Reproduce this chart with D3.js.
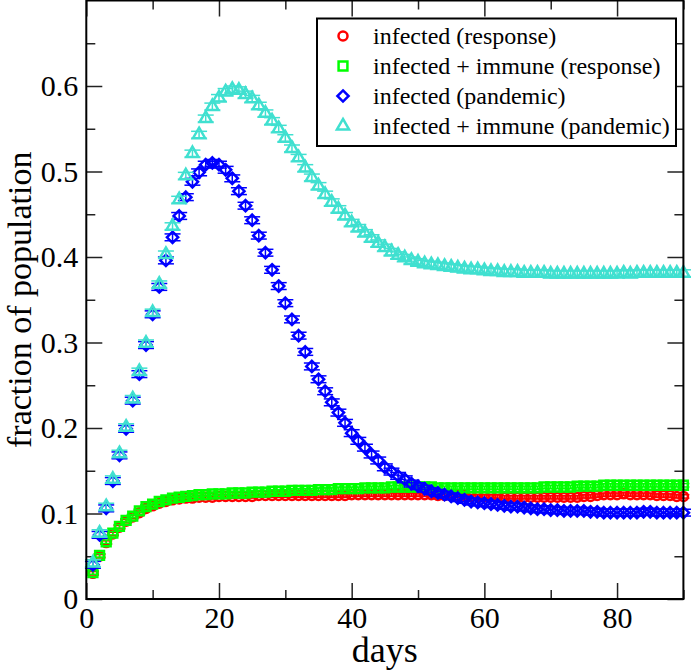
<!DOCTYPE html>
<html>
<head>
<meta charset="utf-8">
<script src="https://cdn.jsdelivr.net/npm/d3@7"></script>
<style>
  body { margin: 0; background: #fff; }
  text { font-family: "Liberation Serif", "Times New Roman", serif; }
</style>
</head>
<body>
<svg id="chart"></svg>
<script>
// days 1..90
const days = d3.range(1, 91);

const infectedResponse = [
  0.030, 0.050, 0.066, 0.076, 0.084, 0.091, 0.096, 0.101, 0.106, 0.109,
  0.112, 0.114, 0.116, 0.117, 0.118, 0.118, 0.119, 0.119, 0.119, 0.120,
  0.120, 0.120, 0.120, 0.120, 0.120, 0.121, 0.121, 0.121, 0.121, 0.121,
  0.121, 0.121, 0.121, 0.121, 0.121, 0.121, 0.121, 0.121, 0.121, 0.122,
  0.122, 0.122, 0.122, 0.122, 0.122, 0.122, 0.122, 0.122, 0.122, 0.122,
  0.122, 0.122, 0.121, 0.121, 0.121, 0.121, 0.121, 0.120, 0.120, 0.120,
  0.120, 0.120, 0.119, 0.119, 0.119, 0.119, 0.119, 0.119, 0.119, 0.119,
  0.119, 0.119, 0.119, 0.119, 0.120, 0.120, 0.121, 0.122, 0.122, 0.122,
  0.123, 0.122, 0.122, 0.122, 0.122, 0.121, 0.121, 0.121, 0.120, 0.120
];

const immuneResponse = [
  0.031, 0.051, 0.067, 0.077, 0.085, 0.092, 0.097, 0.103, 0.108, 0.111,
  0.114, 0.116, 0.118, 0.119, 0.120, 0.121, 0.122, 0.122, 0.123, 0.123,
  0.123, 0.124, 0.124, 0.124, 0.125, 0.125, 0.125, 0.126, 0.126, 0.126,
  0.127, 0.127, 0.127, 0.127, 0.128, 0.128, 0.128, 0.129, 0.129, 0.129,
  0.129, 0.130, 0.130, 0.130, 0.130, 0.131, 0.131, 0.131, 0.131, 0.131,
  0.131, 0.131, 0.130, 0.130, 0.130, 0.130, 0.130, 0.130, 0.130, 0.130,
  0.130, 0.130, 0.130, 0.130, 0.130, 0.130, 0.130, 0.130, 0.131, 0.131,
  0.131, 0.131, 0.131, 0.132, 0.132, 0.132, 0.132, 0.133, 0.133, 0.133,
  0.133, 0.133, 0.133, 0.133, 0.133, 0.133, 0.133, 0.133, 0.133, 0.133
];

const infectedPandemic = [
  0.040, 0.075, 0.106, 0.138, 0.168, 0.199, 0.232, 0.263, 0.297, 0.333,
  0.365, 0.396, 0.423, 0.448, 0.470, 0.488, 0.499, 0.508, 0.510, 0.508,
  0.502, 0.492, 0.477, 0.460, 0.443, 0.425, 0.405, 0.385, 0.366, 0.346,
  0.327, 0.308, 0.289, 0.272, 0.257, 0.243, 0.230, 0.218, 0.206, 0.194,
  0.185, 0.177, 0.169, 0.162, 0.154, 0.149, 0.144, 0.140, 0.135, 0.132,
  0.129, 0.126, 0.124, 0.122, 0.120, 0.118, 0.116, 0.114, 0.113, 0.112,
  0.111, 0.110, 0.109, 0.108, 0.108, 0.107, 0.106, 0.105, 0.105, 0.104,
  0.104, 0.103, 0.103, 0.103, 0.103, 0.102, 0.102, 0.101, 0.101, 0.101,
  0.101, 0.101, 0.101, 0.102, 0.102, 0.101, 0.101, 0.101, 0.101, 0.101
];

const immunePandemic = [
  0.042, 0.077, 0.108, 0.140, 0.170, 0.201, 0.234, 0.266, 0.299, 0.335,
  0.368, 0.403, 0.436, 0.467, 0.495, 0.521, 0.543, 0.562, 0.576, 0.586,
  0.593, 0.596, 0.595, 0.590, 0.585, 0.577, 0.568, 0.559, 0.550, 0.539,
  0.527, 0.516, 0.504, 0.493, 0.483, 0.473, 0.464, 0.456, 0.448, 0.440,
  0.434, 0.428, 0.422, 0.416, 0.411, 0.406, 0.402, 0.399, 0.396, 0.394,
  0.392, 0.391, 0.390, 0.389, 0.388, 0.387, 0.386, 0.385, 0.385, 0.384,
  0.383, 0.383, 0.382, 0.382, 0.382, 0.381, 0.381, 0.381, 0.381, 0.380,
  0.380, 0.380, 0.380, 0.380, 0.380, 0.380, 0.380, 0.380, 0.380, 0.380,
  0.381, 0.380, 0.381, 0.381, 0.381, 0.381, 0.381, 0.381, 0.381, 0.381
];

// error bar half-heights, one per series
const errors = [0.002, 0.002, 0.004, 0.004];

const seriesNames = [
  "infected (response)",
  "infected + immune (response)",
  "infected (pandemic)",
  "infected + immune (pandemic)"
];
const seriesColors = ["#ff0000", "#00ff00", "#0000ff", "#40e0d0"];
const seriesValues = [infectedResponse, immuneResponse, infectedPandemic, immunePandemic];

const xTicks = [0, 20, 40, 60, 80];
const xMinorTicks = [10, 30, 50, 70, 90];
const yTicks = [0, 0.1, 0.2, 0.3, 0.4, 0.5, 0.6];
const yMinorTicks = [0.05, 0.15, 0.25, 0.35, 0.45, 0.55, 0.65];

const width = 691, height = 670;
const plotLeft = 86.3, plotRight = 683.4, plotTop = 0.5, plotBottom = 599;

const svg = d3.select("#chart")
    .attr("width", width)
    .attr("height", height);

svg.append("rect").attr("width", width).attr("height", height).attr("fill", "#fff");

const x = d3.scaleLinear().domain([0, 90]).range([plotLeft, plotRight]);
const y = d3.scaleLinear().domain([0, 0.7]).range([plotBottom, plotTop]);

// symbol generators (circle, square, diamond, triangle)
const symbols = [
  d3.symbol().type(d3.symbolCircle).size(64),
  d3.symbol().type(d3.symbolSquare).size(78),
  d3.symbol().type(d3.symbolDiamond2).size(80),
  d3.symbol().type(d3.symbolTriangle).size(64)
];

// ticks, inward on all four sides
function styleAxis(g) {
  g.select(".domain").remove();
  g.selectAll(".tick line").attr("stroke", "#222").attr("stroke-width", 1.5);
  g.selectAll(".tick text")
    .attr("fill", "#000")
    .style("font-size", "30px")
    .style("font-family", "'Liberation Serif', 'Times New Roman', serif");
}

svg.append("g").attr("transform", `translate(0,${plotBottom})`)
  .call(d3.axisBottom(x).tickValues(xTicks).tickSize(-16).tickPadding(8).tickFormat(String))
  .call(styleAxis);
svg.append("g").attr("transform", `translate(0,${plotBottom})`)
  .call(d3.axisBottom(x).tickValues(xMinorTicks).tickSize(-9).tickFormat(""))
  .call(styleAxis);
svg.append("g").attr("transform", `translate(0,${plotTop})`)
  .call(d3.axisTop(x).tickValues(xTicks).tickSize(-16).tickFormat(""))
  .call(styleAxis);
svg.append("g").attr("transform", `translate(0,${plotTop})`)
  .call(d3.axisTop(x).tickValues(xMinorTicks).tickSize(-9).tickFormat(""))
  .call(styleAxis);

svg.append("g").attr("transform", `translate(${plotLeft},0)`)
  .call(d3.axisLeft(y).tickValues(yTicks).tickSize(-16).tickPadding(8).tickFormat(String))
  .call(styleAxis);
svg.append("g").attr("transform", `translate(${plotLeft},0)`)
  .call(d3.axisLeft(y).tickValues(yMinorTicks).tickSize(-9).tickFormat(""))
  .call(styleAxis);
svg.append("g").attr("transform", `translate(${plotRight},0)`)
  .call(d3.axisRight(y).tickValues(yTicks).tickSize(-16).tickFormat(""))
  .call(styleAxis);
svg.append("g").attr("transform", `translate(${plotRight},0)`)
  .call(d3.axisRight(y).tickValues(yMinorTicks).tickSize(-9).tickFormat(""))
  .call(styleAxis);

// data: error bars then symbols, series drawn in order
const capHalf = [6, 6, 8, 8];
seriesValues.forEach((vals, s) => {
  const g = svg.append("g");
  const pts = days.map((d, i) => ({ day: d, v: vals[i] }));

  const eb = g.selectAll(".eb").data(pts).enter().append("g")
    .attr("stroke", seriesColors[s])
    .attr("stroke-width", 1.5);
  eb.append("line")
    .attr("x1", d => x(d.day)).attr("x2", d => x(d.day))
    .attr("y1", d => y(d.v - errors[s])).attr("y2", d => y(d.v + errors[s]));
  eb.append("line")
    .attr("x1", d => x(d.day) - capHalf[s]).attr("x2", d => x(d.day) + capHalf[s])
    .attr("y1", d => y(d.v + errors[s])).attr("y2", d => y(d.v + errors[s]));
  eb.append("line")
    .attr("x1", d => x(d.day) - capHalf[s]).attr("x2", d => x(d.day) + capHalf[s])
    .attr("y1", d => y(d.v - errors[s])).attr("y2", d => y(d.v - errors[s]));

  g.selectAll(".pt").data(pts).enter().append("path")
    .attr("d", symbols[s]())
    .attr("transform", d => `translate(${x(d.day)},${y(d.v)})`)
    .attr("fill", "none")
    .attr("stroke", seriesColors[s])
    .attr("stroke-width", 2.5);
});

// frame
svg.append("rect")
  .attr("x", plotLeft).attr("y", plotTop)
  .attr("width", plotRight - plotLeft).attr("height", plotBottom - plotTop)
  .attr("fill", "none").attr("stroke", "#000").attr("stroke-width", 2);

// axis titles
svg.append("text")
  .attr("x", (plotLeft + plotRight) / 2).attr("y", 662)
  .attr("text-anchor", "middle")
  .style("font-size", "36px")
  .text("days");

svg.append("text")
  .attr("transform", `translate(31,${(plotTop + plotBottom) / 2}) rotate(-90)`)
  .attr("text-anchor", "middle")
  .style("font-size", "34px")
  .text("fraction of population");

// legend
const legend = svg.append("g");
legend.append("rect")
  .attr("x", 317).attr("y", 18.5).attr("width", 359).attr("height", 127.5)
  .attr("fill", "#fff").attr("stroke", "#000").attr("stroke-width", 2);

seriesNames.forEach((name, i) => {
  const ly = 36 + 30 * i;
  legend.append("path")
    .attr("d", symbols[i]())
    .attr("transform", `translate(343,${ly})`)
    .attr("fill", "none")
    .attr("stroke", seriesColors[i])
    .attr("stroke-width", 2.5);
  legend.append("text")
    .attr("x", 373).attr("y", ly + 7.5)
    .style("font-size", "24px")
    .text(name);
});
</script>
</body>
</html>
